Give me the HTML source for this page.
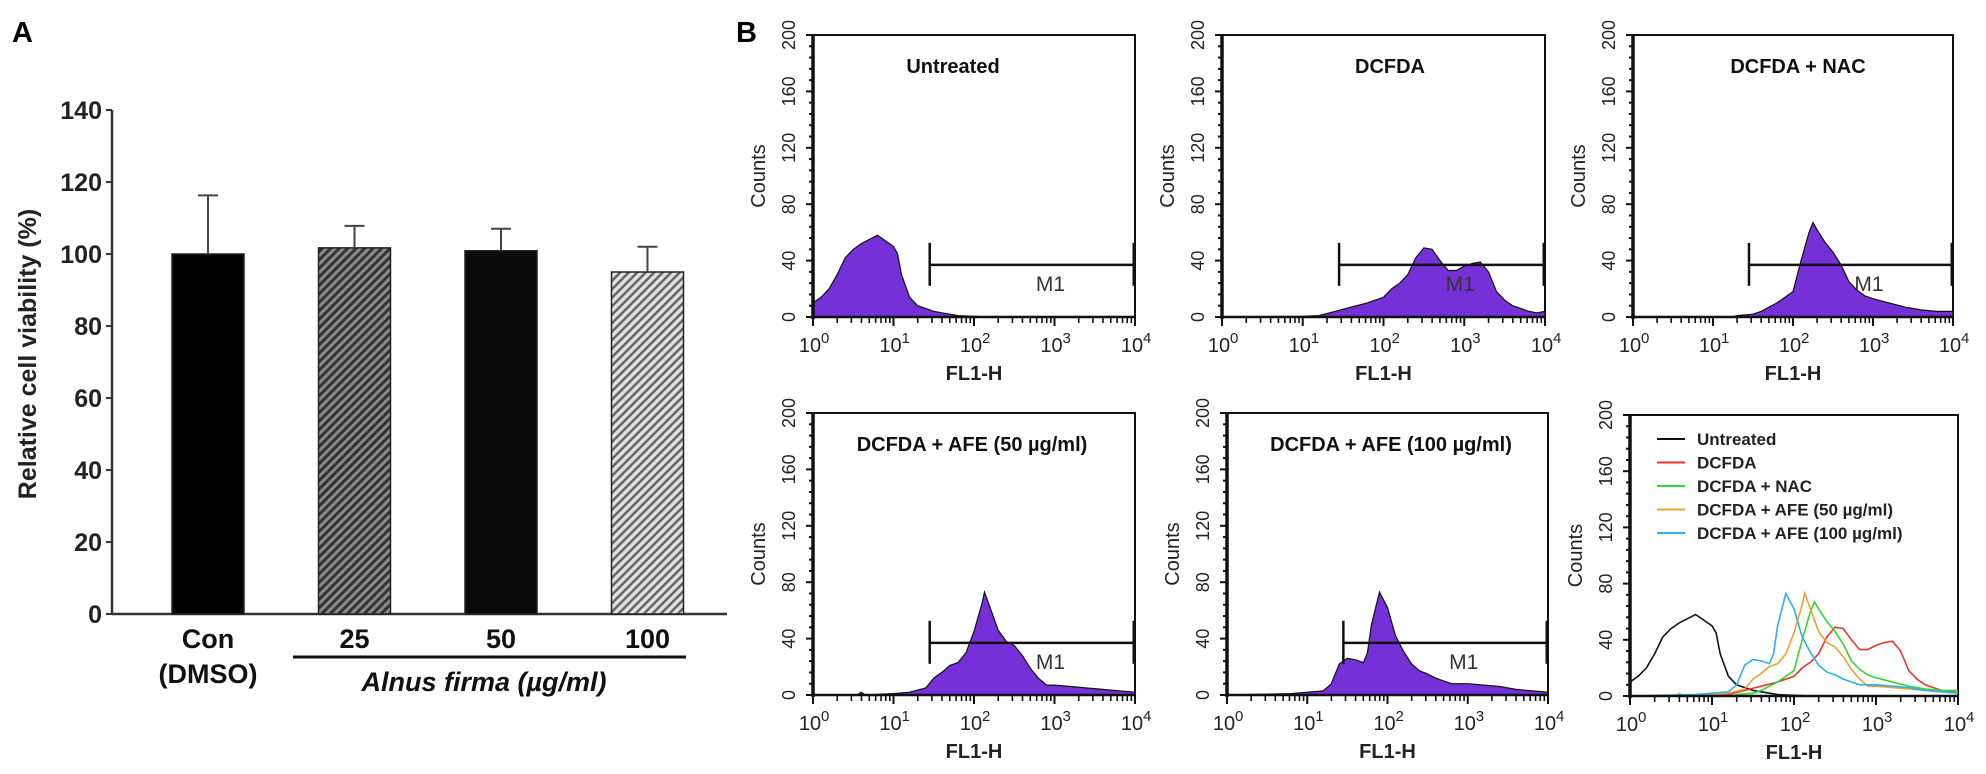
<!DOCTYPE html>
<html><head><meta charset="utf-8"><style>
html,body{margin:0;padding:0;background:#fff;}
svg{display:block;font-family:"Liberation Sans",Arial,sans-serif;}
</style></head><body>
<svg id="fig" width="1986" height="774" viewBox="0 0 1986 774" xmlns="http://www.w3.org/2000/svg">
<defs>
<pattern id="hatchDark" patternUnits="userSpaceOnUse" width="6" height="6" patternTransform="rotate(45)">
<rect width="6" height="6" fill="#8a8a8a"/><rect width="3" height="6" fill="#333"/>
</pattern>
<pattern id="hatchLight" patternUnits="userSpaceOnUse" width="6" height="6" patternTransform="rotate(45)">
<rect width="6" height="6" fill="#e0e0e0"/><rect width="2.5" height="6" fill="#666"/>
</pattern>
</defs>
<text x="12" y="42" font-size="29" font-weight="bold">A</text>
<text x="736" y="42" font-size="29" font-weight="bold">B</text>
<g id="panelA"></g>
<g id="panelB"></g>
</svg>
<script>
// ---------- Panel A data ----------
const barCategories = ["Con", "25", "50", "100"];
const barValues = [100, 101.7, 100.9, 95];
const barErrors = [16.3, 6.1, 6.1, 7];
const barFills = ["#000", "url(#hatchDark)", "#0a0a0a", "url(#hatchLight)"];
const yTicksA = [0, 20, 40, 60, 80, 100, 120, 140];

// ---------- Panel B data (log10 FL1-H, counts) ----------
const untreatedLog = [0,0.1,0.2,0.3,0.4,0.5,0.6,0.7,0.8,0.9,1.0,1.05,1.1,1.2,1.3,1.4,1.5,1.6,1.7,1.8,2.0,2.2,4.0];
const untreatedCount = [10,14,20,30,42,48,52,55,58,54,50,45,30,14,8,6,4,3,2,1,0.5,0,0];
const dcfdaLog = [0,1.0,1.2,1.4,1.6,1.8,2.0,2.1,2.2,2.3,2.4,2.5,2.6,2.7,2.8,2.9,3.0,3.1,3.2,3.3,3.4,3.5,3.6,3.7,3.8,3.9,4.0];
const dcfdaCount = [0,0.5,1,4,7,10,14,20,24,30,42,49,48,40,33,33,36,38,39,32,18,12,8,6,4,3,4];
const nacLog = [0,1.25,1.3,1.5,1.6,1.7,1.8,1.9,2.0,2.1,2.2,2.25,2.3,2.4,2.5,2.6,2.7,2.8,2.9,3.0,3.2,3.4,3.6,3.8,4.0];
const nacCount = [0,0,1,2,4,7,10,14,18,40,60,67,62,53,46,37,25,19,15,13,10,7,5,4,4];
const afe50Log = [0,0.55,0.6,0.65,1.0,1.2,1.4,1.5,1.6,1.7,1.8,1.9,2.0,2.1,2.13,2.2,2.3,2.4,2.5,2.6,2.7,2.8,2.9,3.0,3.2,3.4,3.6,3.8,4.0];
const afe50Count = [0,0,2,0,1,2,5,12,16,21,23,30,45,65,73,62,46,38,35,28,19,12,7,7,6,5,4,3,2];
const afe100Log = [0,0.8,1.0,1.2,1.3,1.4,1.5,1.6,1.7,1.75,1.8,1.9,2.0,2.1,2.2,2.3,2.4,2.5,2.6,2.7,2.8,3.0,3.2,3.4,3.6,3.8,4.0];
const afe100Count = [0,1,2,3,8,22,26,25,23,30,50,73,62,42,31,22,17,15,12,10,8,8,7,6,4,3,2];
const countTicks = [0, 40, 80, 120, 160, 200];
const decadeTicks = [0, 1, 2, 3, 4];
const markerLowLog = 1.45;
const markerCount = 37;
const legendLabels = ["Untreated", "DCFDA", "DCFDA + NAC", "DCFDA + AFE (50 \u00b5g/ml)", "DCFDA + AFE (100 \u00b5g/ml)"];

const NS = "http://www.w3.org/2000/svg";
function mk(tag, attrs, parent){ const e=document.createElementNS(NS,tag); for(const k in attrs) e.setAttribute(k,attrs[k]); parent.appendChild(e); return e; }

// ---------- Panel A ----------
const A = document.getElementById("panelA");
const ax0 = 112, ay0 = 614, ay140 = 110;
function yA(v){ return ay0 - v*(ay0-ay140)/140; }
const barCenters0 = 208, barStep = 146.5, barW = 72;
function xA(i){ return barCenters0 + i*barStep; }

let yAxisA = mk("line",{x1:ax0,y1:ay140,x2:ax0,y2:ay0,stroke:"#333","stroke-width":2.5},A);


let xAxisA = mk("line",{x1:ax0,y1:ay0,x2:727,y2:ay0,stroke:"#333","stroke-width":2.5},A);


yTicksA.forEach(v=>{
  let t = mk("line",{x1:ax0-6,y1:yA(v),x2:ax0,y2:yA(v),stroke:"#333","stroke-width":2},A);
  
  
  let l = mk("text",{x:ax0-10,y:yA(v)+9,"font-size":25,"font-weight":"bold","text-anchor":"end",fill:"#222"},A);
  l.textContent = v;
  
  
});
let ylab = mk("text",{x:0,y:0,"font-size":25,"font-weight":"bold","text-anchor":"middle",fill:"#222",transform:"translate(36,354) rotate(-90)"},A);
ylab.textContent = "Relative cell viability (%)";



barValues.forEach((v,i)=>{
  const cx = xA(i);
  let b = mk("rect",{x:cx-barW/2,y:yA(v),width:barW,height:ay0-yA(v),fill:barFills[i],stroke:"#222","stroke-width":1.5},A);
  
  
  const top = yA(v+barErrors[i]);
  let e = mk("line",{x1:cx,y1:yA(v),x2:cx,y2:top,stroke:"#444","stroke-width":2},A);
  
  
  let c = mk("line",{x1:cx-10,y1:top,x2:cx+10,y2:top,stroke:"#444","stroke-width":2},A);
  
  
  let l = mk("text",{x:cx,y:648,"font-size":27,"font-weight":"bold","text-anchor":"middle",fill:"#111"},A);
  l.textContent = barCategories[i];
  
  
});
let dm = mk("text",{x:xA(0),y:683,"font-size":27,"font-weight":"bold","text-anchor":"middle",fill:"#111"},A);
dm.textContent = "(DMSO)";


let grp = mk("line",{x1:293,y1:657,x2:686,y2:657,stroke:"#111","stroke-width":3},A);


let gl = mk("text",{x:484,y:691,"font-size":27,"font-weight":"bold","font-style":"italic","text-anchor":"middle",fill:"#111"},A);
gl.textContent = "Alnus firma (\u00b5g/ml)";



// ---------- Panel B ----------
const B = document.getElementById("panelB");
const plots = [
  {x0:813,x1:1135,y0:35,y1:317,title:"Untreated",tx:953,series:[[untreatedLog,untreatedCount]]},
  {x0:1222,x1:1545,y0:35,y1:317,title:"DCFDA",tx:1390,series:[[dcfdaLog,dcfdaCount]]},
  {x0:1633,x1:1953,y0:35,y1:317,title:"DCFDA  + NAC",tx:1798,series:[[nacLog,nacCount]]},
  {x0:813,x1:1135,y0:413,y1:695,title:"DCFDA  + AFE (50 \u00b5g/ml)",tx:972,series:[[afe50Log,afe50Count]]},
  {x0:1227,x1:1548,y0:413,y1:695,title:"DCFDA  + AFE (100 \u00b5g/ml)",tx:1391,series:[[afe100Log,afe100Count]]},
  {x0:1630,x1:1958,y0:415,y1:696,title:null,overlay:true,
   series:[[untreatedLog,untreatedCount],[dcfdaLog,dcfdaCount],[nacLog,nacCount],[afe50Log,afe50Count],[afe100Log,afe100Count]]}
];
const overlayColors = ["#111","#e8342c","#33d633","#f0a030","#2ab0f0"];

plots.forEach((p,pi)=>{
  const g = mk("g",{},B);
  
  
  const X = l => p.x0 + l*(p.x1-p.x0)/4;
  const Y = c => p.y1 - c*(p.y1-p.y0)/200;
  let fr = mk("rect",{x:p.x0,y:p.y0,width:p.x1-p.x0,height:p.y1-p.y0,fill:"none",stroke:"#111","stroke-width":2},g);
  
  
  p.series.forEach((s,si)=>{
    const lg = s[0], ct = s[1];
    let d = "M"+X(lg[0])+","+Y(ct[0]);
    for(let k=1;k<lg.length;k++) d += " L"+X(lg[k]).toFixed(1)+","+Y(ct[k]).toFixed(1);
    if(p.overlay){
      let ln = mk("path",{d:d,fill:"none",stroke:overlayColors[si],"stroke-width":1.6},g);
      
      
    } else {
      const fd = d + " L"+X(lg[lg.length-1])+","+Y(0)+" L"+X(lg[0])+","+Y(0)+" Z";
      let f = mk("path",{d:fd,fill:"#7530d8",stroke:"#111","stroke-width":1.2},g);
      
      
    }
  });
  let ya = mk("line",{x1:p.x0,y1:p.y0,x2:p.x0,y2:p.y1+2,stroke:"#111","stroke-width":3.5},g);
  
  
  let xa = mk("line",{x1:p.x0,y1:p.y1,x2:p.x1,y2:p.y1,stroke:"#111","stroke-width":2.5},g);
  
  
  for(let c=0;c<=200;c+=8){
    const major = c%40===0;
    let t = mk("line",{x1:p.x0-(major?7:4),y1:Y(c),x2:p.x0,y2:Y(c),stroke:"#111","stroke-width":2},g);
    
    
  }
  countTicks.forEach(c=>{
    const cx = p.x0-24, cy = Y(c);
    let l = mk("text",{x:0,y:0,"font-size":18,"text-anchor":"middle",fill:"#222",transform:"translate("+(cx+6)+","+cy+") rotate(-90)"},g);
    l.textContent = c;
    
    
  });
  let cl = mk("text",{x:0,y:0,"font-size":20,"text-anchor":"middle",fill:"#222",transform:"translate("+(p.x0-48)+","+((p.y0+p.y1)/2)+") rotate(-90)"},g);
  cl.textContent = "Counts";
  
  
  decadeTicks.forEach(dv=>{
    let t = mk("line",{x1:X(dv),y1:p.y1,x2:X(dv),y2:p.y1+9,stroke:"#111","stroke-width":2},g);
    
    
    if(dv<4){
      for(let m=2;m<=9;m++){
        let mt = mk("line",{x1:X(dv+Math.log10(m)),y1:p.y1,x2:X(dv+Math.log10(m)),y2:p.y1+6,stroke:"#111","stroke-width":1.6},g);
        
        
      }
    }
    let l = mk("text",{x:X(dv)-3,y:p.y1+35,"font-size":20,"text-anchor":"middle",fill:"#222"},g);
    l.textContent = "10";
    
    
    let s = mk("text",{x:X(dv)+8,y:p.y1+26,"font-size":15,fill:"#222"},g);
    s.textContent = dv;
    
    
  });
  let xl = mk("text",{x:(p.x0+p.x1)/2,y:p.y1+63,"font-size":20,"font-weight":"bold","text-anchor":"middle",fill:"#222"},g);
  xl.textContent = "FL1-H";
  
  
  if(!p.overlay){
    const mx0 = X(markerLowLog), mx1 = X(4), my = Y(markerCount);
    let m1 = mk("line",{x1:mx0,y1:my,x2:mx1,y2:my,stroke:"#111","stroke-width":2.5},g);
    
    
    let m2 = mk("line",{x1:mx0,y1:my-22,x2:mx0,y2:my+21,stroke:"#111","stroke-width":2.5},g);
    
    
    let m3 = mk("line",{x1:mx1-1,y1:my-22,x2:mx1-1,y2:my+21,stroke:"#111","stroke-width":3},g);
    
    
    let ml = mk("text",{x:X(2.95),y:my+26,"font-size":21,"text-anchor":"middle",fill:"#333"},g);
    ml.textContent = "M1";
    
    
    let tt = mk("text",{x:p.tx,y:p.y0+38,"font-size":20,"font-weight":"bold","text-anchor":"middle",fill:"#111"},g);
    tt.textContent = p.title;
    
    
  } else {
    legendLabels.forEach((lab,li)=>{
      const ly = p.y0 + 24 + li*23.5;
      let ln = mk("line",{x1:p.x0+27,y1:ly,x2:p.x0+55,y2:ly,stroke:overlayColors[li],"stroke-width":2},g);
      
      
      let tx = mk("text",{x:p.x0+67,y:ly+6,"font-size":17,"font-weight":"bold",fill:"#222"},g);
      tx.textContent = lab;
      
      
    });
  }
});
</script>
</body></html>
